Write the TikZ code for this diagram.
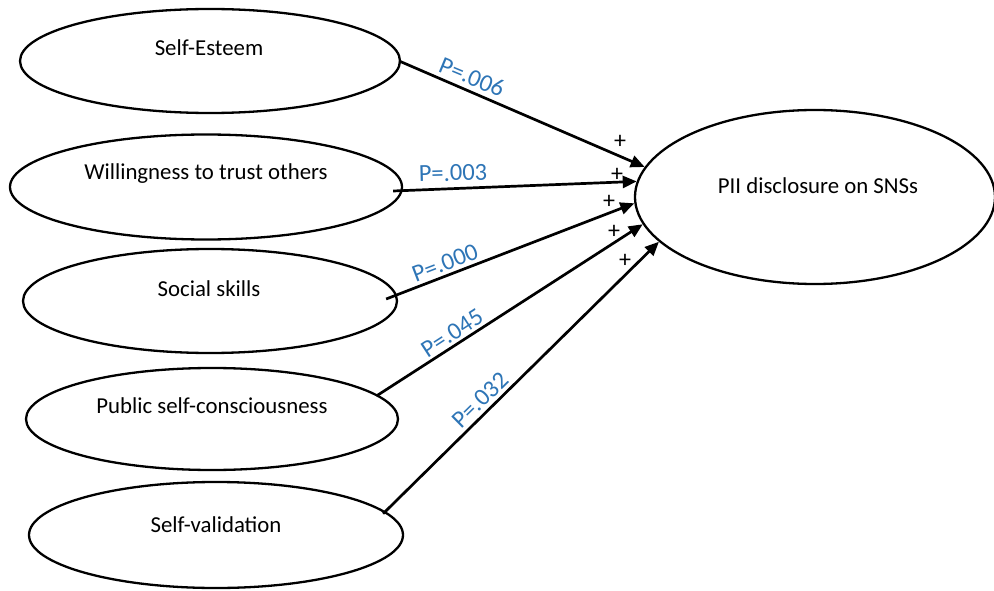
\documentclass[tikz,border=0pt]{standalone}
\usepackage{fontspec}
\setmainfont{Carlito}
\usetikzlibrary{shapes.geometric,arrows.meta}
\definecolor{pblue}{RGB}{46,117,182}
\begin{document}
\begin{tikzpicture}[x=1pt,y=-1pt,
  ell/.style={draw=black, line width=2.3pt, ellipse, inner sep=0pt, fill=white},
  lbl/.style={font=\fontsize{22.8}{26}\selectfont, inner sep=0pt},
  pval/.style={font=\fontsize{24.5}{28}\selectfont, text=pblue, inner sep=0pt},
  plus/.style={font=\fontsize{24}{28}\selectfont, inner sep=0pt},
  conn/.style={line width=2.7pt, -{Triangle[length=14pt,width=12pt]}}]
\useasboundingbox (0,0) rectangle (994,591);
% ellipses
\node[ell, minimum width=380pt, minimum height=104pt] (se) at (210,61) {};
\node[ell, minimum width=392pt, minimum height=105pt] (wt) at (206,187) {};
\node[ell, minimum width=374pt, minimum height=104pt] (ss) at (210,301) {};
\node[ell, minimum width=372pt, minimum height=102pt] (ps) at (212,419) {};
\node[ell, minimum width=374pt, minimum height=106pt] (sv) at (216,535) {};
\node[ell, minimum width=360pt, minimum height=174pt] (pii) at (815,197) {};
% texts
\node[lbl] (tse) at (209,48) {Self-Esteem};
\node[lbl] (twt) at (206,174) {Willingness to trust others};
\node[lbl] (tss) at (209,289) {Social skills};
\node[lbl] (tps) at (212,406) {Public self-consciousness};
\node[lbl] (tsv) at (216,525) {Self-validation};
\node[lbl] (tpii) at (818,186) {PII disclosure on SNSs};
% connectors
\draw[conn] ([xshift=-2pt]se.east) -- (pii.170);
\draw[conn] ([xshift=-10pt,yshift=-4pt]wt.east) -- (pii.175.5);
\draw[conn] ([xshift=-12pt,yshift=2pt]ss.east) -- (pii.182);
\draw[conn] ([xshift=-2pt]ps.8) -- (pii.189);
\draw[conn] ([xshift=-6pt]sv.7.3) -- (pii.196);
% p-values
\node[pval, rotate=-22.6] (p1) at (472,77) {P=.006};
\node[pval, rotate=1.5] (p2) at (453,173) {P=.003};
\node[pval, rotate=21] (p3) at (445,263) {P=.000};
\node[pval, rotate=33] (p4) at (452,333) {P=.045};
\node[pval, rotate=44.5] (p5) at (480,400) {P=.032};
% plus signs
\node[plus] (s1) at (620,142) {+};
\node[plus] (s2) at (617,175) {+};
\node[plus] (s3) at (609,202) {+};
\node[plus] (s4) at (614,232) {+};
\node[plus] (s5) at (625,261) {+};
\end{tikzpicture}
\end{document}
